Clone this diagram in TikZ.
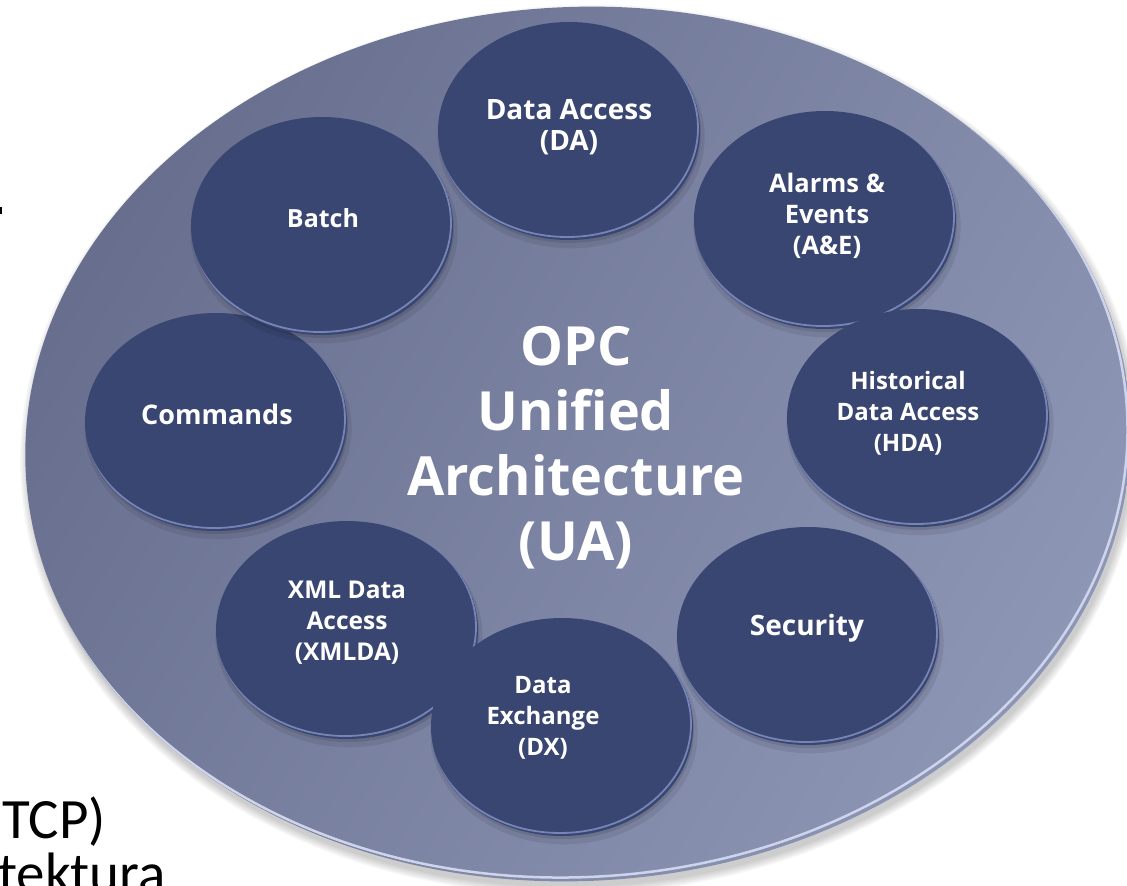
\documentclass[tikz,border=0pt]{standalone}
\usepackage{fontspec}
\setmainfont{Carlito}
\newfontfamily\discfont{Open Sans}
\usetikzlibrary{shapes.geometric,shadows}

\definecolor{platedark}{RGB}{104,111,142}
\definecolor{platelight}{RGB}{142,150,182}
\definecolor{platerim}{RGB}{205,212,235}
\definecolor{discfill}{RGB}{58,70,114}
\definecolor{discrim}{RGB}{118,132,182}

\tikzset{
  disc/.style={ellipse, minimum width=262pt, minimum height=218pt, inner sep=0pt,
    fill=discfill,
    general shadow={fill=black, opacity=0.08, shadow xshift=2pt, shadow yshift=-6pt, shadow scale=1.02},
    general shadow={fill=black, opacity=0.10, shadow xshift=1pt, shadow yshift=-3pt},
    path picture={
      \draw[discrim, line width=1.8pt]
        ([xshift=-2pt,yshift=3pt]path picture bounding box.center)
        ellipse [x radius=131pt, y radius=109pt];
    }},
  disclabel/.style={text=white, align=center, inner sep=0pt,
    font=\discfont\bfseries\fontsize{#1}{31}\selectfont},
  disclabel/.default=24,
  titlelabel/.style={text=white, align=center, inner sep=0pt,
    font=\discfont\bfseries\fontsize{54}{65}\selectfont},
  sidetext/.style={text=black, inner sep=0pt, font=\fontsize{57}{68}\selectfont}
}

\begin{document}
\begin{tikzpicture}[x=1pt,y=-1pt]
\useasboundingbox (0,0) rectangle (1127,886);
\clip (0,0) rectangle (1127,886);

% the large plate with its soft shadow and light rim
\begin{scope}[shift={(578,444)}, rotate=3]
  \foreach \k in {0,...,5}{
    \fill[black, opacity=0.035] (2,6) ellipse [x radius={553+1.5*\k}, y radius={437+1.5*\k}];
  }
  \path[shading=axis, top color=platedark, bottom color=platelight, shading angle=60]
    (0,0) ellipse [x radius=553, y radius=437];
  \begin{scope}
    \clip (0,0) ellipse [x radius=553, y radius=437];
    \draw[platerim, line width=2.5pt] (-3,-4) ellipse [x radius=553, y radius=437];
  \end{scope}
\end{scope}

% the eight discs around the centre
\node[disc] (cmd)  at (216,422) {};
\node[disc] (bat)  at (322,226) {};
\node[disc] (da)   at (569,131) {};
\node[disc] (ae)   at (825,220) {};
\node[disc] (hda)  at (918,418) {};
\node[disc] (sec)  at (808,636) {};
\node[disc] (xml)  at (347,630) {};
\node[disc] (dx)   at (562,727) {};

% disc captions
\node[disclabel=27] (cmd-t) at (217,414) {Commands};
\node[disclabel=25] (bat-t) at (323,218) {Batch};
\node[disclabel=28] (da-t)  at (569,127) {Data Access\\(DA)};
\node[disclabel=25.5] (ae-t) at (827,216) {Alarms \&\\Events\\(A\&E)};
\node[disclabel=24] (hda-t) at (908,413) {Historical\\Data Access\\(HDA)};
\node[disclabel=28] (sec-t) at (807,628) {Security};
\node[disclabel=24.5] (xml-t) at (347,623) {XML Data\\Access\\(XMLDA)};
\node[disclabel=24] (dx-t)  at (543,718) {Data\\Exchange\\(DX)};

% centre title
\node[titlelabel] (ua) at (576,448) {OPC\\Unified\\Architecture\\(UA)};

% text running in from the left edge
\node[sidetext, anchor=base west] (tcp)  at (2,838) {TCP)};
\node[sidetext, anchor=base west] (tekt) at (-2,892) {tektura};
\fill[black] (0,207) rectangle (2,214);
\end{tikzpicture}
\end{document}
